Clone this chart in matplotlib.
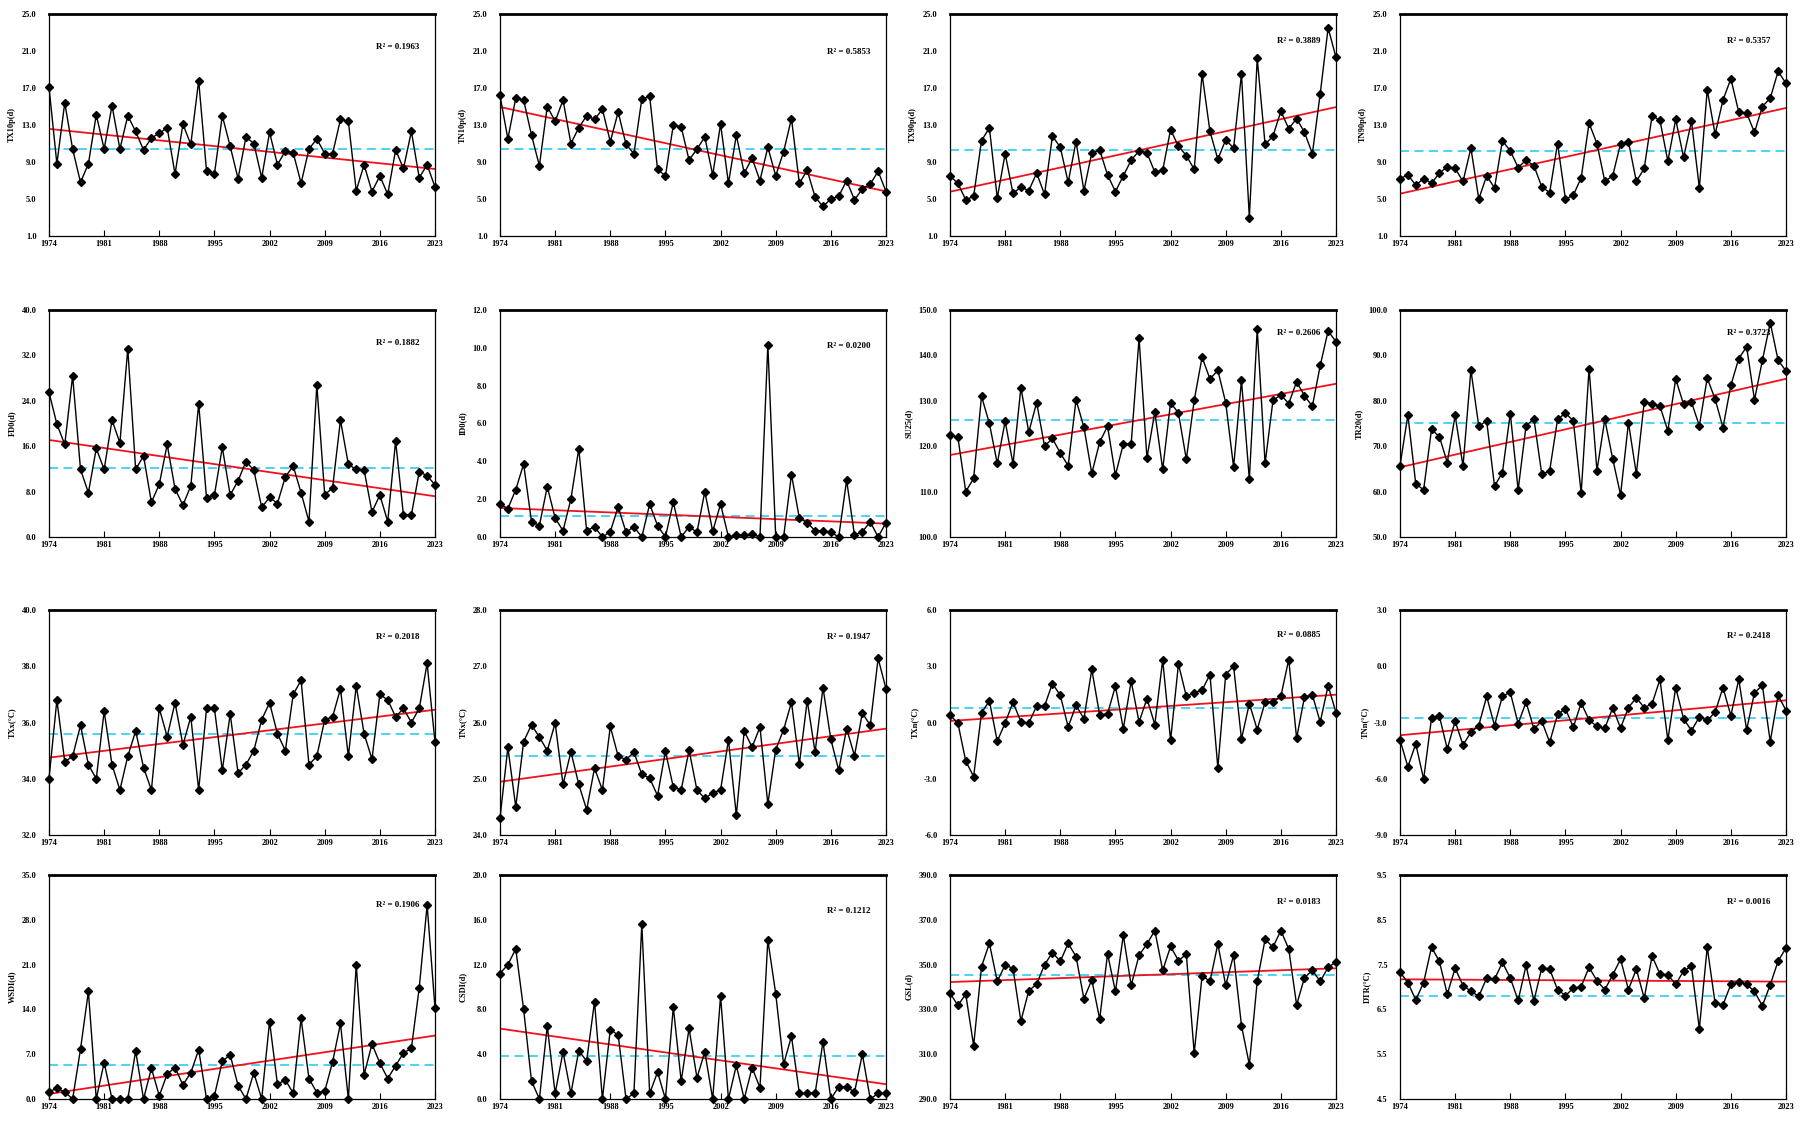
import numpy as np
import matplotlib
matplotlib.use("Agg")
from matplotlib import pyplot as plt
from matplotlib.ticker import FormatStrFormatter

plt.rcParams['font.family'] = ['Liberation Serif', 'DejaVu Serif']
plt.rcParams['font.weight'] = 'bold'

years = np.arange(1974, 2024)

tx10p = [17.1, 8.8, 15.4, 10.4, 6.8, 8.8, 14.1, 10.4, 15.1, 10.4,
         14.0, 12.3, 10.3, 11.6, 12.1, 12.7, 7.7, 13.1, 10.9, 17.8,
         8.0, 7.7, 14.0, 10.7, 7.2, 11.7, 11.0, 7.3, 12.2, 8.7,
         10.2, 10.0, 6.7, 10.4, 11.5, 9.9, 9.9, 13.6, 13.4, 5.9,
         8.7, 5.8, 7.5, 5.5, 10.3, 8.3, 12.3, 7.3, 8.7, 6.3]
tn10p = [16.2, 11.5, 15.9, 15.7, 11.9, 8.6, 15.0, 13.4, 15.7, 11.0,
         12.7, 14.0, 13.6, 14.7, 11.2, 14.4, 10.9, 9.9, 15.8, 16.1,
         8.2, 7.5, 13.0, 12.8, 9.2, 10.4, 11.7, 7.6, 13.1, 6.7,
         11.9, 7.8, 9.4, 7.0, 10.6, 7.5, 10.1, 13.7, 6.7, 8.1,
         5.2, 4.2, 5.0, 5.3, 7.0, 4.9, 6.1, 6.6, 8.0, 5.8]
tx90p = [7.5, 6.7, 4.9, 5.3, 11.3, 12.7, 5.1, 9.9, 5.6, 6.3,
         5.9, 7.8, 5.5, 11.8, 10.6, 6.8, 11.2, 5.9, 10.0, 10.3,
         7.6, 5.8, 7.5, 9.2, 10.2, 10.0, 7.9, 8.1, 12.5, 10.7,
         9.7, 8.2, 18.5, 12.3, 9.3, 11.4, 10.5, 18.5, 3.0, 20.2,
         10.9, 11.8, 14.5, 12.6, 13.7, 12.2, 9.9, 16.4, 23.5, 20.3]
tn90p = [7.2, 7.6, 6.5, 7.2, 6.7, 7.8, 8.5, 8.3, 6.9, 10.5,
         5.0, 7.5, 6.2, 11.3, 10.2, 8.4, 9.2, 8.6, 6.3, 5.7,
         11.0, 5.0, 5.4, 7.3, 13.2, 11.0, 6.9, 7.5, 11.0, 11.2,
         6.9, 8.3, 14.0, 13.5, 9.1, 13.6, 9.5, 13.4, 6.2, 16.8,
         12.0, 15.7, 18.0, 14.4, 14.3, 12.2, 15.0, 15.9, 18.8, 17.5]
fd0 = [25.5, 19.9, 16.3, 28.4, 11.9, 7.8, 15.6, 11.9, 20.6, 16.6,
       33.2, 11.9, 14.3, 6.1, 9.3, 16.3, 8.5, 5.6, 9.0, 23.5,
       6.8, 7.4, 15.8, 7.4, 9.9, 13.3, 11.8, 5.2, 7.0, 5.9,
       10.6, 12.5, 7.8, 2.7, 26.8, 7.4, 8.7, 20.6, 12.8, 11.9,
       11.8, 4.4, 7.4, 2.7, 16.9, 3.8, 3.9, 11.5, 10.8, 9.2]
id0 = [1.74, 1.5, 2.5, 3.86, 0.81, 0.6, 2.66, 1.0, 0.33, 2.0,
       4.67, 0.33, 0.54, 0.0, 0.28, 1.6, 0.25, 0.54, 0.0, 1.74,
       0.6, 0.0, 1.85, 0.0, 0.54, 0.25, 2.4, 0.3, 1.74, 0.0,
       0.1, 0.1, 0.15, 0.0, 10.17, 0.0, 0.0, 3.3, 1.0, 0.76,
       0.33, 0.33, 0.25, 0.0, 3.0, 0.1, 0.28, 0.8, 0.0, 0.76]
su25 = [122.5, 122.0, 110.0, 112.9, 131.0, 125.0, 116.2, 125.5, 116.1, 132.9,
        123.1, 129.6, 120.0, 121.7, 118.5, 115.7, 130.2, 124.2, 114.0, 120.9,
        124.4, 113.6, 120.5, 120.5, 143.8, 117.4, 127.5, 114.9, 129.6, 127.3,
        117.1, 130.1, 139.6, 134.8, 136.7, 129.6, 115.4, 134.5, 112.7, 145.8,
        116.2, 130.1, 131.3, 129.4, 134.2, 131.1, 128.8, 137.8, 145.4, 143.0]
tr20 = [65.7, 76.9, 61.7, 60.4, 73.7, 72.1, 66.4, 76.8, 65.6, 86.8,
        74.4, 75.6, 61.2, 64.2, 77.2, 60.4, 74.5, 76.0, 63.8, 64.6,
        75.9, 77.3, 75.6, 59.7, 87.1, 64.6, 75.9, 67.2, 59.3, 75.2,
        63.9, 79.7, 79.4, 78.8, 73.4, 84.8, 79.2, 79.7, 74.5, 85.0,
        80.4, 74.1, 83.4, 89.3, 91.9, 80.2, 88.9, 97.2, 88.9, 86.6]
txx = [34.0, 36.8, 34.6, 34.8, 35.9, 34.5, 34.0, 36.4, 34.5, 33.6,
       34.8, 35.7, 34.4, 33.6, 36.5, 35.5, 36.7, 35.2, 36.2, 33.6,
       36.5, 36.5, 34.3, 36.3, 34.2, 34.5, 35.0, 36.1, 36.7, 35.6,
       35.0, 37.0, 37.5, 34.5, 34.8, 36.1, 36.2, 37.2, 34.8, 37.3,
       35.6, 34.7, 37.0, 36.8, 36.2, 36.5, 36.0, 36.5, 38.1, 35.3]
tnx = [24.3, 25.56, 24.5, 25.66, 25.96, 25.74, 25.5, 25.99, 24.9, 25.48,
       24.9, 24.45, 25.19, 24.8, 25.93, 25.4, 25.34, 25.47, 25.08, 25.01,
       24.7, 25.49, 24.85, 24.8, 25.51, 24.8, 24.65, 24.75, 24.8, 25.69,
       24.35, 25.85, 25.56, 25.92, 24.55, 25.52, 25.87, 26.36, 25.26, 26.39,
       25.47, 26.62, 25.7, 25.15, 25.89, 25.41, 26.17, 25.95, 27.14, 26.6]
txn = [0.39, -0.03, -2.06, -2.88, 0.52, 1.15, -1.0, -0.02, 1.08, 0.04,
       -0.03, 0.88, 0.88, 2.08, 1.45, -0.24, 0.92, 0.2, 2.83, 0.39,
       0.47, 1.94, -0.33, 2.2, 0.02, 1.28, -0.11, 3.33, -0.95, 3.11,
       1.4, 1.6, 1.72, 2.56, -2.41, 2.56, 3.0, -0.88, 1.01, -0.38,
       1.08, 1.08, 1.4, 3.36, -0.84, 1.37, 1.47, 0.02, 1.97, 0.52]
tnn = [-3.93, -5.36, -4.14, -6.02, -2.77, -2.66, -4.41, -2.93, -4.2, -3.52,
       -3.16, -1.61, -3.16, -1.59, -1.39, -3.07, -1.91, -3.34, -2.93, -4.05,
       -2.57, -2.27, -3.25, -1.96, -2.86, -3.21, -3.3, -2.23, -3.29, -2.2,
       -1.68, -2.21, -2.0, -0.7, -3.93, -1.14, -2.8, -3.43, -2.71, -2.89,
       -2.45, -1.14, -2.63, -0.7, -3.39, -1.41, -1.02, -4.02, -1.55, -2.36]
wsdi = [1.1, 1.7, 1.1, 0.0, 7.8, 16.8, 0.0, 5.7, 0.0, 0.0,
        0.0, 7.5, 0.0, 4.8, 0.5, 3.9, 4.9, 2.2, 4.1, 7.7,
        0.0, 0.5, 5.9, 6.9, 2.1, 0.0, 4.1, 0.0, 12.1, 2.3,
        3.0, 0.9, 12.6, 3.2, 1.0, 1.2, 5.8, 11.8, 0.0, 21.0,
        3.8, 8.6, 5.6, 3.2, 5.2, 7.2, 7.9, 17.4, 30.3, 14.2]
csdi = [11.2, 12.0, 13.4, 8.0, 1.6, 0.0, 6.5, 0.5, 4.2, 0.5,
        4.3, 3.4, 8.7, 0.0, 6.2, 5.7, 0.0, 0.5, 15.6, 0.5,
        2.4, 0.0, 8.2, 1.6, 6.3, 1.9, 4.2, 0.0, 9.2, 0.0,
        3.0, 0.0, 2.8, 1.0, 14.2, 9.4, 3.1, 5.6, 0.5, 0.5,
        0.5, 5.1, 0.0, 1.1, 1.1, 0.6, 4.0, 0.0, 0.5, 0.5]
gsl = [337.3, 331.8, 336.8, 313.8, 349.1, 359.5, 342.5, 349.9, 348.2, 324.8,
       338.3, 341.3, 349.9, 355.4, 351.4, 359.5, 353.6, 334.7, 343.2, 325.7,
       354.8, 338.0, 363.1, 340.7, 354.2, 359.2, 365.2, 347.4, 358.1, 351.8,
       354.6, 310.5, 345.1, 342.5, 359.2, 340.7, 354.3, 322.8, 305.3, 342.5,
       361.3, 357.8, 365.2, 357.0, 332.0, 344.2, 347.4, 342.5, 348.8, 351.1]
dtr = [7.33, 7.10, 6.71, 7.10, 7.89, 7.57, 6.84, 7.42, 7.03, 6.91,
       6.79, 7.20, 7.17, 7.55, 7.20, 6.70, 7.48, 6.69, 7.43, 7.40,
       6.94, 6.81, 6.97, 7.01, 7.44, 7.14, 6.94, 7.27, 7.62, 6.94,
       7.40, 6.75, 7.69, 7.29, 7.27, 7.06, 7.36, 7.46, 6.07, 7.89,
       6.64, 6.60, 7.06, 7.11, 7.06, 6.90, 6.58, 7.05, 7.58, 7.87]

series = [tx10p, tn10p, tx90p, tn90p, fd0, id0, su25, tr20,
          txx, tnx, txn, tnn, wsdi, csdi, gsl, dtr]
ylabels = ['TX10p(d)', 'TN10p(d)', 'TX90p(d)', 'TN90p(d)',
           'FD0(d)', 'ID0(d)', 'SU25(d)', 'TR20(d)',
           'TXx(°C)', 'TNx(°C)', 'TXn(°C)', 'TNn(°C)',
           'WSDI(d)', 'CSDI(d)', 'GSL(d)', 'DTR(°C)']
r2_text = ['0.1963', '0.5853', '0.3889', '0.5357',
           '0.1882', '0.0200', '0.2606', '0.3723',
           '0.2018', '0.1947', '0.0885', '0.2418',
           '0.1906', '0.1212', '0.0183', '0.0016']
ref_level = [10.4, 10.4, 10.3, 10.2,
             12.1, 1.1, 125.8, 75.1,
             35.6, 25.41, 0.78, -2.75,
             5.3, 3.8, 345.3, 6.81]
ylims = [(1, 25), (1, 25), (1, 25), (1, 25),
         (0, 40), (0, 12), (100, 150), (50, 100),
         (32, 40), (24, 28), (-6, 6), (-9, 3),
         (0, 35), (0, 20), (290, 390), (4.5, 9.5)]
ysteps = [4, 4, 4, 4, 8, 2, 10, 10, 2, 1, 3, 3, 7, 4, 20, 1]
r2_ypos = [0.85, 0.83, 0.88, 0.88, 0.855, 0.84, 0.9, 0.9,
           0.88, 0.88, 0.89, 0.885, 0.866, 0.84, 0.88, 0.88]
xticks = [1974, 1981, 1988, 1995, 2002, 2009, 2016, 2023]

W, H = 1800, 1124
col_left = [49, 500, 950, 1400]
col_w = 386
row_top = [14, 310, 610, 875]
row_bot = [236, 537, 835, 1099]

fig = plt.figure(figsize=(W / 100, H / 100), dpi=100)

for k in range(16):
    r, c = divmod(k, 4)
    ax = fig.add_axes([col_left[c] / W, 1 - row_bot[r] / H,
                       col_w / W, (row_bot[r] - row_top[r]) / H])
    y = np.array(series[k])

    ax.axhline(ref_level[k], color='#3ED0F2', lw=1.3, ls=(0, (5, 3)), zorder=1)

    slope, icpt = np.polyfit(years, y, 1)
    ax.plot(years, slope * years + icpt, color='#F2101C', lw=1.3, zorder=2)

    ax.plot(years, y, color='black', lw=1.0, marker='D', ms=3.6,
            markerfacecolor='black', zorder=3, clip_on=False)

    lo, hi = ylims[k]
    ax.set_ylim(lo, hi)
    ax.set_yticks(np.arange(lo, hi + ysteps[k] / 2, ysteps[k]))
    ax.yaxis.set_major_formatter(FormatStrFormatter('%.1f'))
    ax.set_xlim(1974, 2023)
    ax.set_xticks(xticks)

    ax.tick_params(axis='x', direction='in', length=4, width=0.8,
                   labelsize=6, pad=3)
    ax.tick_params(axis='y', length=0, labelsize=6, pad=9)
    for lab in ax.get_xticklabels() + ax.get_yticklabels():
        lab.set_fontweight('bold')

    for side in ['left', 'right', 'bottom']:
        ax.spines[side].set_linewidth(0.9)
    ax.spines['top'].set_linewidth(2.0)

    ax.set_ylabel(ylabels[k], fontsize=6, fontweight='bold', labelpad=4)
    ax.text(0.96, r2_ypos[k], 'R² = ' + r2_text[k], transform=ax.transAxes,
            ha='right', va='center', fontsize=6.5, fontweight='bold')

fig.savefig('out.png', dpi=100)
